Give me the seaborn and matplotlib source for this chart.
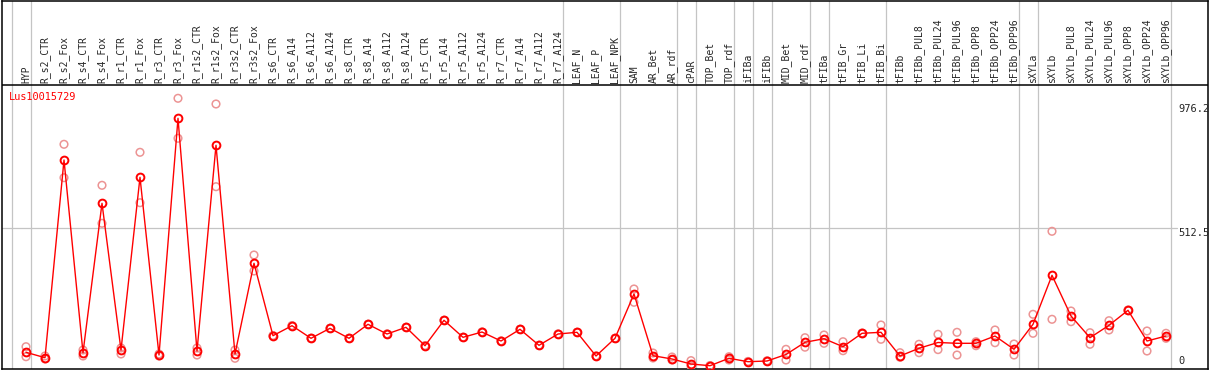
import numpy as np
import pandas as pd
import matplotlib
matplotlib.use("Agg")
import matplotlib.pyplot as plt
import seaborn as sns

sns.set_style("white")
plt.rcParams['font.family'] = ['DejaVu Sans Mono', 'DejaVu Sans']

GENE = 'Lus10015729'

samples = ['HYP', 'R_s2_CTR', 'R_s2_Fox', 'R_s4_CTR', 'R_s4_Fox', 'R_r1_CTR', 'R_r1_Fox',
           'R_r3_CTR', 'R_r3_Fox', 'R_r1s2_CTR', 'R_r1s2_Fox', 'R_r3s2_CTR', 'R_r3s2_Fox',
           'R_s6_CTR', 'R_s6_A14', 'R_s6_A112', 'R_s6_A124', 'R_s8_CTR', 'R_s8_A14',
           'R_s8_A112', 'R_s8_A124', 'R_r5_CTR', 'R_r5_A14', 'R_r5_A112', 'R_r5_A124',
           'R_r7_CTR', 'R_r7_A14', 'R_r7_A112', 'R_r7_A124', 'LEAF_N', 'LEAF_P', 'LEAF_NPK',
           'SAM', 'AR_Bet', 'AR_rdf', 'cPAR', 'TOP_Bet', 'TOP_rdf', 'iFIBa', 'iFIBb',
           'MID_Bet', 'MID_rdf', 'tFIBa', 'tFIB_Gr', 'tFIB_Li', 'tFIB_Bi', 'tFIBb',
           'tFIBb_PUL8', 'tFIBb_PUL24', 'tFIBb_PUL96', 'tFIBb_OPP8', 'tFIBb_OPP24',
           'tFIBb_OPP96', 'sXYLa', 'sXYLb', 'sXYLb_PUL8', 'sXYLb_PUL24', 'sXYLb_PUL96',
           'sXYLb_OPP8', 'sXYLb_OPP24', 'sXYLb_OPP96']

mean_expr = [51.0, 30.9, 766.7, 49.5, 605.5, 59.5, 702.3, 40.9, 921.8, 55.8, 821.4, 44.7, 382.2,
             112.8, 150.0, 103.1, 140.3, 103.1, 155.2, 119.1, 144.0, 75.5, 170.1, 106.8, 126.5,
             93.0, 136.6, 77.0, 119.1, 125.4, 37.2, 103.1, 268.0, 38.3, 26.1, 7.4, 1.1, 28.7,
             16.0, 18.6, 42.8, 88.2, 101.6, 71.8, 121.7, 125.4, 37.2, 65.9, 87.5, 84.5, 84.5,
             111.6, 62.2, 155.2, 337.5, 186.1, 105.3, 151.5, 207.3, 93.0, 111.6]

rep1 = [71.8, 37.2, 825.1, 59.5, 672.5, 67.0, 795.3, 44.7, 996.3, 67.0, 975.1, 59.5, 413.1,
        112.8, 150.0, 103.1, 140.3, 103.1, 155.2, 119.1, 144.0, 75.5, 170.1, 106.8, 126.5,
        93.0, 136.6, 77.0, 119.1, 125.4, 37.2, 103.1, 286.6, 48.4, 33.5, 20.0, 1.5, 34.6,
        17.0, 19.5, 62.1, 105.3, 115.4, 90.4, 122.8, 152.6, 49.5, 80.8, 118.0, 125.4, 90.4,
        134.0, 81.9, 192.4, 501.3, 204.7, 123.9, 168.6, 208.4, 130.3, 121.7]

rep2 = [34.6, 26.1, 700.8, 37.2, 531.1, 44.7, 607.7, 37.2, 847.4, 40.9, 667.3, 28.7, 353.6,
        112.8, 150.0, 103.1, 140.3, 103.1, 155.2, 119.1, 144.0, 75.5, 170.1, 106.8, 126.5,
        93.0, 136.6, 77.0, 119.1, 125.4, 37.2, 103.1, 237.1, 29.8, 22.3, 0.0, 0.7, 22.3,
        15.0, 17.7, 22.3, 70.0, 84.5, 56.9, 120.0, 99.4, 32.4, 49.5, 61.0, 40.9, 75.5,
        86.7, 40.9, 121.7, 173.8, 164.9, 80.8, 134.0, 206.0, 55.8, 103.1]

# group separators sit just right of these sample indices
sep_after = [-1, 0, 28, 31, 34, 35, 37, 38, 39, 41, 42, 45, 52, 53, 60]
axis_ticks = [976.2, 512.5, 0]

RED = '#FF0000'
PINK = '#EC9494'
GREY = '#C4C4C4'

# pixel mapping of the reference: 19 px per sample, zero at y=366, 0.2687 px per unit
W, H = 1209, 370
PX_X0, PX_STEP = 26.0, 19.0
PX_Y0, PX_PER_UNIT = 366.0, 0.2687


def xval(px):
    return (px - PX_X0) / PX_STEP


def yval(py):
    return (PX_Y0 - py) / PX_PER_UNIT


def plot_chart():
    xs = np.arange(len(samples))
    df = pd.DataFrame({'pos': xs, 'sample': samples, 'mean': mean_expr})
    reps = pd.DataFrame({'pos': np.concatenate([xs, xs]),
                         'value': np.concatenate([rep1, rep2])})

    fig = plt.figure(figsize=(W / 100, H / 100), dpi=100)
    ax = fig.add_axes([1.5 / W, 1.0 / H, (1208 - 1.5) / W, (369 - 0.5) / H])

    ax.set_xlim(xval(1.5), xval(1208))
    ax.set_ylim(yval(369), yval(0.5))

    for s in sep_after:
        ax.axvline(s + 5 / PX_STEP, color=GREY, lw=0.9, zorder=1)
    ax.axhline(512.5, xmax=(1177 - 1.5) / (1208 - 1.5), color=GREY, lw=0.9, zorder=1)
    ax.axhline(yval(85), color='black', lw=1.1, zorder=3)

    sns.scatterplot(data=reps, x='pos', y='value', ax=ax, marker='o', s=30,
                    facecolors='none', edgecolor=PINK, linewidth=1.1, zorder=4, legend=False)
    sns.lineplot(data=df, x='pos', y='mean', ax=ax, color=RED, lw=1.0, marker='o', ms=5.6,
                 mfc='none', mec=RED, mew=1.4, zorder=5, legend=False)

    label_y = yval(83)
    for i, name in enumerate(samples):
        ax.text(i, label_y, name, rotation=90, ha='center', va='bottom', fontsize=7.0)

    ax.text(xval(9), yval(92), GENE, color=RED, ha='left', va='top', fontsize=7.4)

    tx = xval(1178)
    ax.text(tx, axis_ticks[0], '976.2', ha='left', va='top', fontsize=7.5)
    ax.text(tx, axis_ticks[1], '512.5', ha='left', va='top', fontsize=7.5)
    ax.text(tx, axis_ticks[2], '0', ha='left', va='bottom', fontsize=7.5)

    ax.set_xticks([])
    ax.set_yticks([])
    ax.set_xlabel('')
    ax.set_ylabel('')
    for sp in ax.spines.values():
        sp.set_color('black')
        sp.set_linewidth(1.1)

    fig.savefig('out.png', dpi=100, facecolor='white')


if __name__ == '__main__':
    plot_chart()
